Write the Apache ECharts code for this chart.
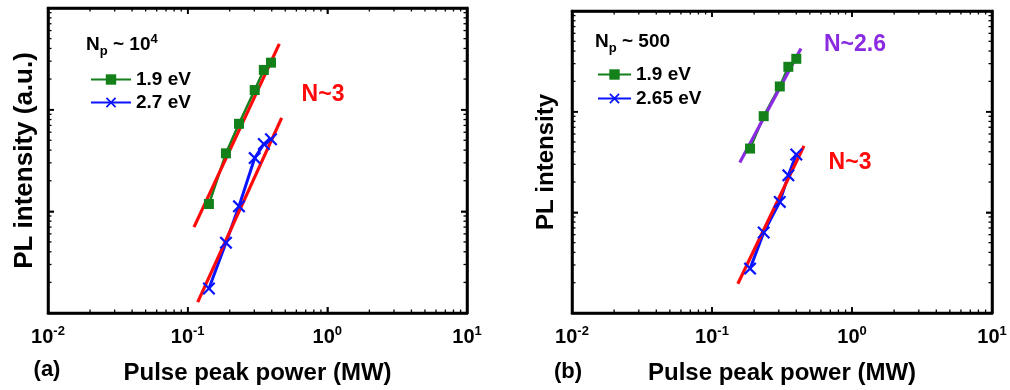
<!DOCTYPE html>
<html><head><meta charset="utf-8">
<script src="https://cdn.jsdelivr.net/npm/echarts@6/dist/echarts.min.js"></script>
<style>html,body{margin:0;padding:0;background:#fff}#c{width:1010px;height:390px}</style>
</head><body><div id="c"></div>
<script>
// ---- data ----
const powerA = [0.142, 0.188, 0.233, 0.302, 0.351, 0.395];
const plA_19 = [11.8, 37.2, 72.6, 156, 246, 290];
const plA_27 = [1.74, 4.92, 11.2, 33.4, 46.0, 51.1];
const fitA_19 = [[0.111, 7.0], [0.453, 444]];
const fitA_27 = [[0.118, 1.28], [0.471, 83]];

const powerB = [0.187, 0.234, 0.305, 0.351, 0.400];
const plB_19 = [43, 90.2, 178, 279, 335];
const plB_265 = [2.76, 6.31, 12.7, 23.3, 37.5];
const fitB_19 = [[0.158, 31.3], [0.432, 423]];
const fitB_265 = [[0.153, 1.95], [0.454, 45.7]];

const xRange = [0.01, 10];
const yRange = [1, 1000];
const xTickExponents = {0.01: '-2', 0.1: '-1', 1: '0', 10: '1'};
const xMajorTicks = [0.1, 1];
const yMajorTicks = [10, 100];
const xMinorTicks = [0.02,0.03,0.04,0.05,0.06,0.07,0.08,0.09,0.2,0.3,0.4,0.5,0.6,0.7,0.8,0.9,2,3,4,5,6,7,8,9];
const yMinorTicks = [2,3,4,5,6,7,8,9,20,30,40,50,60,70,80,90,200,300,400,500,600,700,800,900];

const FONT = '"Liberation Sans", Arial, sans-serif';
const GREEN = '#13801a', BLUE = '#0a14ff', RED = '#ff0a0a', PURPLE = '#8a2be2';
const boldTxt = size => 'bold ' + size + 'px ' + FONT;

function textGraphics() {
  return [
    {id: 'np-a', type: 'text', x: 86, y: 45, z: 50, style: {text: 'N{sub|p} ~ 10{sup|4}', font: boldTxt(19), fill: '#000', verticalAlign: 'middle',
      rich: {sub: {font: boldTxt(13), fill: '#000', padding: [12, 0, 0, 0]}, sup: {font: boldTxt(13), fill: '#000', padding: [0, 0, 12, 0]}}}},
    {id: 'np-b', type: 'text', x: 595, y: 42, z: 50, style: {text: 'N{sub|p} ~ 500', font: boldTxt(19), fill: '#000', verticalAlign: 'middle',
      rich: {sub: {font: boldTxt(13), fill: '#000', padding: [12, 0, 0, 0]}}}},
    {id: 'n-a', type: 'text', x: 323, y: 95, z: 50, style: {text: 'N~3', font: boldTxt(23), fill: RED, align: 'center', verticalAlign: 'middle'}},
    {id: 'n-b3', type: 'text', x: 850, y: 163, z: 50, style: {text: 'N~3', font: boldTxt(23), fill: RED, align: 'center', verticalAlign: 'middle'}},
    {id: 'n-b26', type: 'text', x: 855, y: 45, z: 50, style: {text: 'N~2.6', font: boldTxt(23), fill: PURPLE, align: 'center', verticalAlign: 'middle'}},
    {id: 'lab-a', type: 'text', x: 47, y: 370, z: 50, style: {text: '(a)', font: boldTxt(22), fill: '#000', align: 'center', verticalAlign: 'middle'}},
    {id: 'lab-b', type: 'text', x: 568, y: 372, z: 50, style: {text: '(b)', font: boldTxt(22), fill: '#000', align: 'center', verticalAlign: 'middle'}}
  ];
}

function buildOption() {
  const CROSS = 'path://M0,1.2L1.2,0L5,3.8L8.8,0L10,1.2L6.2,5L10,8.8L8.8,10L5,6.2L1.2,10L0,8.8L3.8,5Z';
  const grids = [
    {left: 48, top: 8, width: 419, height: 309},
    {left: 572, top: 11, width: 420, height: 305}
  ];
  const AXLINE = {show: true, onZero: false, lineStyle: {color: '#000', width: 2.5}};
  const AXTICK = {show: true, inside: true, length: 6, lineStyle: {color: '#000', width: 1.5}};
  const xAxes = [], yAxes = [], series = [];
  grids.forEach((g, gi) => {
    xAxes.push({
      gridIndex: gi, type: 'log', logBase: 10, min: xRange[0], max: xRange[1], position: 'bottom',
      name: 'Pulse peak power (MW)', nameLocation: 'middle', nameGap: 48,
      nameTextStyle: {fontFamily: FONT, fontWeight: 'bold', fontSize: 24, color: '#000'},
      axisLine: AXLINE, axisTick: AXTICK, splitLine: {show: false}, minorTick: {show: false},
      axisLabel: {
        margin: 12,
        formatter: v => '{b|10}{s|' + (xTickExponents[v] !== undefined ? xTickExponents[v] : String(Math.round(Math.log10(v)))) + '}',
        rich: {
          b: {fontFamily: FONT, fontWeight: 'bold', fontSize: 20, color: '#000'},
          s: {fontFamily: FONT, fontWeight: 'bold', fontSize: 13, color: '#000', padding: [0, 0, 12, 0]}
        }
      }
    });
    xAxes.push({
      gridIndex: gi, type: 'log', logBase: 10, min: xRange[0], max: xRange[1], position: 'top',
      axisLine: AXLINE, axisTick: AXTICK, axisLabel: {show: false}, splitLine: {show: false}
    });
    yAxes.push({
      gridIndex: gi, type: 'log', logBase: 10, min: yRange[0], max: yRange[1], position: 'left',
      name: gi === 0 ? 'PL intensity (a.u.)' : 'PL intensity', nameLocation: 'middle', nameRotate: 90,
      nameGap: gi === 0 ? 10 : 14,
      nameTextStyle: {fontFamily: FONT, fontWeight: 'bold', fontSize: gi === 0 ? 26 : 24, color: '#000'},
      axisLine: AXLINE, axisTick: AXTICK, axisLabel: {show: false}, splitLine: {show: false}
    });
    yAxes.push({
      gridIndex: gi, type: 'log', logBase: 10, min: yRange[0], max: yRange[1], position: 'right',
      axisLine: AXLINE, axisTick: AXTICK, axisLabel: {show: false}, splitLine: {show: false}
    });
  });
  const pair = (xs, ys) => xs.map((x, i) => [x, ys[i]]);
  const dataSeries = (name, gi, data, color, symbol, size, lw) => ({
    name, type: 'line', xAxisIndex: gi * 2, yAxisIndex: gi * 2, data,
    symbol, symbolSize: size, showSymbol: true, animation: false,
    lineStyle: {color, width: lw}, itemStyle: {color}, emphasis: {disabled: true}
  });
  const fitSeries = (gi, data, color) => ({
    type: 'line', xAxisIndex: gi * 2, yAxisIndex: gi * 2, data, symbol: 'none', animation: false,
    lineStyle: {color, width: 3.2}, emphasis: {disabled: true}
  });
  series.push(dataSeries('1.9 eV', 0, pair(powerA, plA_19), GREEN, 'rect', 10, 2.5));
  series.push(dataSeries('2.7 eV', 0, pair(powerA, plA_27), BLUE, CROSS, 13, 3));
  series.push(dataSeries('1.9 eV ', 1, pair(powerB, plB_19), GREEN, 'rect', 10, 2.5));
  series.push(dataSeries('2.65 eV', 1, pair(powerB, plB_265), BLUE, CROSS, 13, 3));
  series.push(fitSeries(0, fitA_19, RED));
  series.push(fitSeries(0, fitA_27, RED));
  series.push(fitSeries(1, fitB_19, PURPLE));
  series.push(fitSeries(1, fitB_265, RED));

  const legendText = {fontFamily: FONT, fontWeight: 'bold', fontSize: 19, color: '#000'};
  return {
    animation: false,
    backgroundColor: '#fff',
    grid: grids,
    xAxis: xAxes,
    yAxis: yAxes,
    legend: [
      {left: 85, top: 65, orient: 'vertical', data: ['1.9 eV', '2.7 eV'], itemWidth: 40, itemHeight: 13,
       itemGap: 4, textStyle: legendText, selectedMode: false, formatter: n => n.trim()},
      {left: 592, top: 60, orient: 'vertical', data: ['1.9 eV ', '2.65 eV'], itemWidth: 33, itemHeight: 13,
       itemGap: 5, textStyle: legendText, selectedMode: false, formatter: n => n.trim()}
    ],
    series,
    graphic: textGraphics()
  };
}

// frame and ticks, placed through the chart's own axis scales
function frameGraphics(chart) {
  const els = [];
  const line = (id, x1, y1, x2, y2, w) => els.push({id, type: 'line', silent: true, z: 100,
    shape: {x1, y1, x2, y2}, style: {stroke: '#000', lineWidth: w}});
  [0, 1].forEach(gi => {
    const finder = {xAxisIndex: gi * 2, yAxisIndex: gi * 2};
    const bl = chart.convertToPixel(finder, [xRange[0], yRange[0]]);
    const tr = chart.convertToPixel(finder, [xRange[1], yRange[1]]);
    const L = bl[0], B = bl[1], R = tr[0], T = tr[1];
    els.push({id: 'frame' + gi, type: 'rect', silent: true, z: 100,
      shape: {x: L, y: T, width: R - L, height: B - T},
      style: {fill: 'transparent', stroke: '#000', lineWidth: 2.5}});
    const tickX = (vals, len, w, tag) => vals.forEach((v, i) => {
      const x = chart.convertToPixel({xAxisIndex: gi * 2}, v);
      line('tx' + tag + gi + '_' + i + 'b', x, B, x, B - len, w);
      line('tx' + tag + gi + '_' + i + 't', x, T, x, T + len, w);
    });
    const tickY = (vals, len, w, tag) => vals.forEach((v, i) => {
      const y = chart.convertToPixel({yAxisIndex: gi * 2}, v);
      line('ty' + tag + gi + '_' + i + 'l', L, y, L + len, y, w);
      line('ty' + tag + gi + '_' + i + 'r', R, y, R - len, y, w);
    });
    tickX(xMajorTicks, 6, 1.5, 'M');
    tickX(xMinorTicks, 3.5, 1.3, 'm');
    tickY(yMajorTicks, 6, 1.5, 'M');
    tickY(yMinorTicks, 3.5, 1.3, 'm');
  });
  return els;
}

const chart = echarts.init(document.getElementById('c'));
chart.setOption(buildOption());
chart.setOption({graphic: textGraphics().concat(frameGraphics(chart))});
</script>
</body></html>
